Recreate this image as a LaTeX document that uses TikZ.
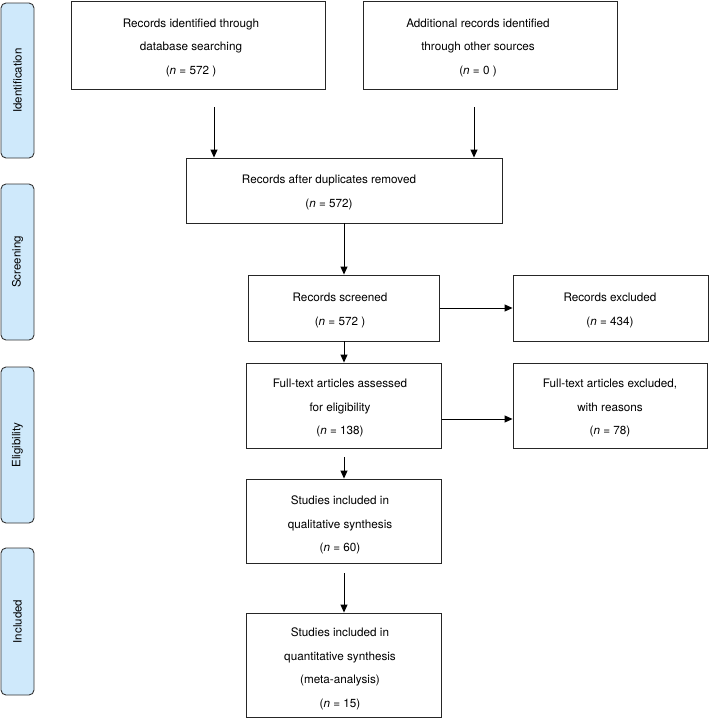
\documentclass[tikz,border=0pt]{standalone}
\usepackage{fontspec}
\setmainfont{TeX Gyre Heros}
\usetikzlibrary{arrows.meta}
\definecolor{phase}{HTML}{CFE9FB}
\begin{document}
\begin{tikzpicture}[x=1pt,y=-1pt,
  box/.style={draw=black!85, line width=0.9pt, inner sep=0pt},
  txt/.style={align=center, inner sep=0pt, font=\fontsize{11.7}{23.5}\selectfont},
  phasebox/.style={draw=black!80, fill=phase, rounded corners=5pt, line width=0.9pt, minimum width=33pt, inner sep=0pt},
  phasetxt/.style={rotate=90, inner sep=0pt, font=\fontsize{11.5}{14}\selectfont},
  arr/.style={-{Triangle[length=8pt,width=7pt]}, line width=0.9pt}]
\useasboundingbox (0,0) rectangle (709,718);

% phase labels
\node[phasebox, minimum height=155pt] (p1) at (17.5,80.5) {};
\node[phasetxt] (p1t) at (p1) {Identification};
\node[phasebox, minimum height=156pt] (p2) at (17.5,262) {};
\node[phasetxt] (p2t) at (p2) {Screening};
\node[phasebox, minimum height=156pt] (p3) at (17.5,445) {};
\node[phasetxt] (p3t) at (p3) {Eligibility};
\node[phasebox, minimum height=147pt] (p4) at (17.5,621.5) {};
\node[phasetxt] (p4t) at (p4) {Included};

% boxes
\node[box, minimum width=254pt, minimum height=88pt] (b1) at (198,45) {};
\node[txt] (t1) at (191,47.5) {Records identified through\\database searching\\(\textit{n} = 572 )};
\node[box, minimum width=254pt, minimum height=88pt] (b2) at (490,45) {};
\node[txt] (t2) at (478,47.5) {Additional records identified\\through other sources\\(\textit{n} = 0 )};
\node[box, minimum width=316pt, minimum height=65pt] (b3) at (344,190.5) {};
\node[txt] (t3) at (329,192.5) {Records after duplicates removed\\(\textit{n} = 572)};
\node[box, minimum width=191pt, minimum height=66pt] (b4) at (344,308) {};
\node[txt] (t4) at (340,310.5) {Records screened\\(\textit{n} = 572 )};
\node[box, minimum width=195pt, minimum height=66pt] (b5) at (610.5,308) {};
\node[txt] (t5) at (610,310.5) {Records excluded\\(\textit{n} = 434)};
\node[box, minimum width=195pt, minimum height=85pt] (b6) at (344,405.5) {};
\node[txt] (t6) at (340,408) {Full-text articles assessed\\for eligibility\\(\textit{n} = 138)};
\node[box, minimum width=194pt, minimum height=85pt] (b7) at (610,405.5) {};
\node[txt] (t7) at (610,408) {Full-text articles excluded,\\with reasons\\(\textit{n} = 78)};
\node[box, minimum width=195pt, minimum height=84pt] (b9) at (344,521) {};
\node[txt] (t9) at (340,525) {Studies included in\\qualitative synthesis\\(\textit{n} = 60)};
\node[box, minimum width=195pt, minimum height=104pt] (b10) at (344,665) {};
\node[txt] (t10) at (340,669) {Studies included in\\quantitative synthesis\\(meta-analysis)\\(\textit{n} = 15)};

% connectors
\coordinate (c1) at (214,107);
\coordinate (c2) at (474,107);
\draw[arr] (c1) -- (c1 |- b3.north);
\draw[arr] (c2) -- (c2 |- b3.north);
\draw[arr] (b3.south) -- (b4.north);
\draw[arr] (b4.east) -- (b5.west);
\draw[arr] (b4.south) -- (b6.north);
\draw[arr] ([yshift=-13.5pt]b6.east) -- ([yshift=-13.5pt]b6.east -| b7.west);
\draw[arr] ([yshift=-9pt]b6.south) -- (b9.north);
\draw[arr] ([yshift=-10pt]b9.south) -- (b10.north);
\end{tikzpicture}
\end{document}
